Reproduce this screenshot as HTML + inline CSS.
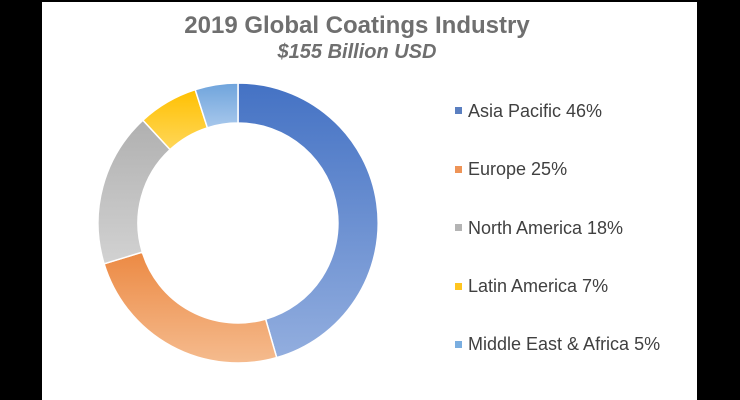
<!DOCTYPE html>
<html><head><meta charset="utf-8"><style>
html,body{margin:0;padding:0;background:#000;}
#c{position:relative;width:740px;height:400px;overflow:hidden;background:#000;}
#w{position:absolute;left:42px;top:2px;width:655px;height:398px;background:#fff;}
svg{position:absolute;left:0;top:0;}
</style></head><body><div id="c"><div id="w"></div>
<svg width="740" height="400" viewBox="0 0 740 400">
<defs>
<linearGradient id="ga" gradientUnits="userSpaceOnUse" x1="0" y1="83" x2="0" y2="363"><stop offset="0" stop-color="#4472c4"/><stop offset="1" stop-color="#94afdf"/></linearGradient>
<linearGradient id="ge" gradientUnits="userSpaceOnUse" x1="0" y1="253" x2="0" y2="363"><stop offset="0" stop-color="#ec8a44"/><stop offset="1" stop-color="#f5bb8e"/></linearGradient>
<linearGradient id="gn" gradientUnits="userSpaceOnUse" x1="0" y1="120" x2="0" y2="264"><stop offset="0" stop-color="#b0b0b0"/><stop offset="1" stop-color="#d2d2d2"/></linearGradient>
<linearGradient id="gl" gradientUnits="userSpaceOnUse" x1="0" y1="89" x2="0" y2="150"><stop offset="0" stop-color="#ffc000"/><stop offset="1" stop-color="#ffd75a"/></linearGradient>
<linearGradient id="gm" gradientUnits="userSpaceOnUse" x1="0" y1="83" x2="0" y2="128"><stop offset="0" stop-color="#6fa4dc"/><stop offset="1" stop-color="#a8c8ec"/></linearGradient>
</defs>
<g stroke="#fff" stroke-width="1.5">
<path d="M238 83 A140 140 0 0 1 276.7 357.6 L265.6 319.1 A100 100 0 0 0 238 123 Z" fill="url(#ga)"/>
<path d="M276.7 357.6 A140 140 0 0 1 104.1 263.8 L142.3 252.1 A100 100 0 0 0 265.6 319.1 Z" fill="url(#ge)"/>
<path d="M104.1 263.8 A140 140 0 0 1 142.9 120.2 L170.1 149.6 A100 100 0 0 0 142.3 252.1 Z" fill="url(#gn)"/>
<path d="M142.9 120.2 A140 140 0 0 1 195.2 89.7 L207.4 127.8 A100 100 0 0 0 170.1 149.6 Z" fill="url(#gl)"/>
<path d="M195.2 89.7 A140 140 0 0 1 238 83 L238 123 A100 100 0 0 0 207.4 127.8 Z" fill="url(#gm)"/>
</g>
<g font-family="Liberation Sans, sans-serif" fill="#6f6f6f" font-weight="bold" text-anchor="middle">
<text x="357" y="33" font-size="24">2019 Global Coatings Industry</text>
<text x="357" y="58" font-size="20" font-style="italic">$155 Billion USD</text>
</g>
<g font-family="Liberation Sans, sans-serif" fill="#404040" font-size="18">
<rect x="455" y="107" width="7" height="7" fill="#5b7fc0"/><text x="468" y="117">Asia Pacific 46%</text>
<rect x="455" y="166" width="7" height="7" fill="#ee9457"/><text x="468" y="175">Europe 25%</text>
<rect x="455" y="224" width="7" height="7" fill="#b4b4b4"/><text x="468" y="234">North America 18%</text>
<rect x="455" y="283" width="7" height="7" fill="#ffc520"/><text x="468" y="292">Latin America 7%</text>
<rect x="455" y="341" width="7" height="7" fill="#7aaee0"/><text x="468" y="350">Middle East &amp; Africa 5%</text>
</g>
</svg></div></body></html>
